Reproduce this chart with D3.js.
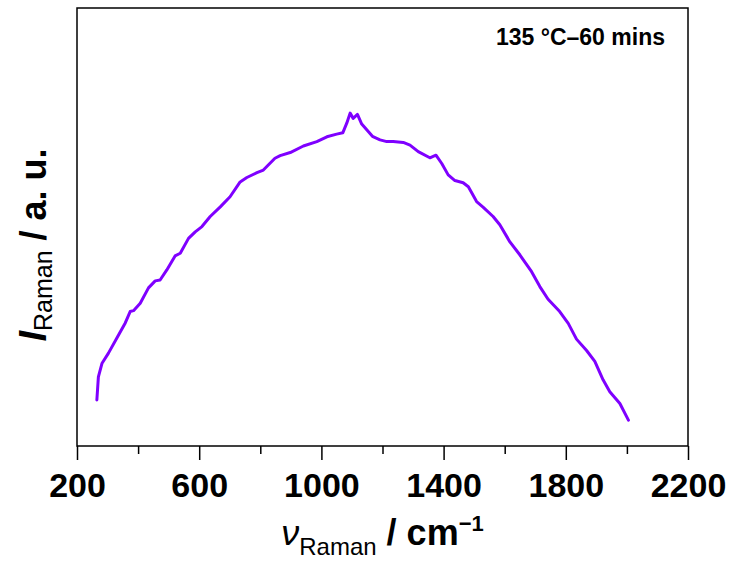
<!DOCTYPE html>
<html>
<head>
<meta charset="utf-8">
<script src="https://cdn.jsdelivr.net/npm/d3@7"></script>
<style>
  body { margin: 0; background: #fff; }
  svg { display: block; font-family: "Liberation Sans", Arial, sans-serif; }
</style>
</head>
<body>
<div id="chart"></div>
<script>
// Raman shift (cm-1) and intensity (a.u.)
var shift = [265, 270, 282, 303, 331, 358, 374, 385, 407, 434, 456, 472, 494, 521, 538, 565, 587, 609,
  636, 669, 701, 734, 756, 789, 810, 848, 865, 898, 941, 985, 1018, 1050, 1070, 1083, 1094, 1104,
  1118, 1132, 1167, 1192, 1214, 1235, 1268, 1290, 1317, 1355, 1375, 1394, 1415, 1437, 1464, 1481,
  1508, 1530, 1562, 1584, 1617, 1650, 1688, 1715, 1742, 1780, 1808, 1835, 1868, 1895, 1922, 1944,
  1977, 2005];
var intensity = [10.5, 15.8, 18.9, 21.2, 24.7, 28.1, 30.7, 30.9, 32.6, 36.1, 37.7, 37.9, 40.2, 43.4,
  44.0, 47.4, 48.9, 50.1, 52.4, 54.6, 56.9, 60.3, 61.3, 62.4, 63.0, 65.7, 66.3, 67.0, 68.5, 69.5,
  70.6, 71.2, 71.5, 73.7, 76.0, 74.8, 75.7, 73.5, 70.7, 69.9, 69.5, 69.5, 69.3, 68.7, 67.2, 65.8,
  66.4, 64.5, 61.9, 60.6, 60.1, 59.2, 55.8, 54.5, 52.4, 50.5, 46.6, 43.6, 39.8, 36.4, 33.5, 30.7,
  28.0, 24.4, 21.8, 19.3, 15.1, 12.4, 9.7, 5.9];
var majorTicks = [200, 600, 1000, 1400, 1800, 2200];
var minorTicks = [400, 800, 1200, 1600, 2000];
var label = "135 °C–60 mins";

var width = 735, height = 562,
  margin = { left: 77, right: 47, top: 8, bottom: 116 },
  innerW = width - margin.left - margin.right,
  innerH = height - margin.top - margin.bottom;

var svg = d3.select("#chart").append("svg")
  .attr("width", width).attr("height", height);
var g = svg.append("g").attr("transform", "translate(" + margin.left + "," + margin.top + ")");

var x = d3.scaleLinear().domain([200, 2200]).range([0, innerW]);
var y = d3.scaleLinear().domain([0, 100]).range([innerH, 0]);

// minor ticks
g.append("g")
  .attr("transform", "translate(0," + innerH + ")")
  .call(d3.axisBottom(x).tickValues(minorTicks).tickSize(8).tickFormat(""))
  .call(function(s) { s.select(".domain").remove(); })
  .selectAll("line").attr("stroke-width", 1.5);

// major ticks
var xa = g.append("g")
  .attr("transform", "translate(0," + innerH + ")")
  .call(d3.axisBottom(x).tickValues(majorTicks).tickSize(14).tickPadding(13).tickFormat(d3.format("d")));
xa.select(".domain").remove();
xa.selectAll("line").attr("stroke-width", 1.5);
xa.selectAll("text")
  .attr("font-size", 34).attr("font-weight", "bold")
  .attr("font-family", "'Liberation Sans', Arial, sans-serif")
  .attr("fill", "#000");

// frame
g.append("rect")
  .attr("width", innerW).attr("height", innerH)
  .attr("fill", "none").attr("stroke", "#000").attr("stroke-width", 1.5);

// spectrum
var pts = shift.map(function(d, i) { return [d, intensity[i]]; });
var line = d3.line()
  .x(function(d) { return x(d[0]); })
  .y(function(d) { return y(d[1]); });
g.append("path")
  .datum(pts)
  .attr("d", line)
  .attr("fill", "none")
  .attr("stroke", "#7f00ff")
  .attr("stroke-width", 3)
  .attr("stroke-linejoin", "round")
  .attr("stroke-linecap", "round");

// annotation
svg.append("text")
  .attr("x", 665).attr("y", 45)
  .attr("text-anchor", "end")
  .attr("font-size", 23).attr("font-weight", "bold")
  .text(label);

// x axis title
var xt = svg.append("text")
  .attr("x", margin.left + innerW / 2).attr("y", 545)
  .attr("text-anchor", "middle")
  .attr("font-size", 36).attr("font-weight", "bold");
xt.append("tspan").attr("font-style", "italic").attr("font-weight", "normal").text("ν");
xt.append("tspan").attr("font-size", 24).attr("font-weight", "normal").attr("dy", 10).text("Raman");
xt.append("tspan").attr("dy", -10).text(" / cm");
xt.append("tspan").attr("font-size", 22).attr("dy", -14).text("−1");

// y axis title
var yt = svg.append("text")
  .attr("transform", "translate(46,245) rotate(-90)")
  .attr("text-anchor", "middle")
  .attr("font-size", 36).attr("font-weight", "bold");
yt.append("tspan").attr("font-style", "italic").attr("font-size", 38).text("I");
yt.append("tspan").attr("font-size", 25).attr("font-weight", "normal").attr("dy", 6).text("Raman");
yt.append("tspan").attr("dy", -6).text(" / a. u.");
</script>
</body>
</html>
